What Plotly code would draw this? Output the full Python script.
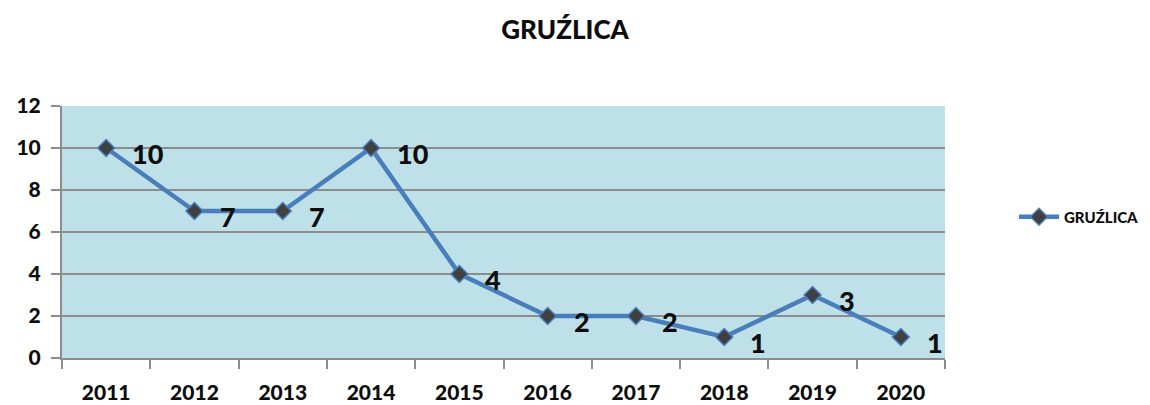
import plotly.graph_objects as go

years = ["2011", "2012", "2013", "2014", "2015", "2016", "2017", "2018", "2019", "2020"]
values = [10, 7, 7, 10, 4, 2, 2, 1, 3, 1]
series_name = "GRUŹLICA"
title_text = "GRUŹLICA"

FONT = "Lato, 'Open Sans', sans-serif"
GRID = "#8c8c8c"
INK = "#0d0d0d"
OFF = 8  # page body offset

fig = go.Figure()
fig.add_trace(go.Scatter(
    x=years, y=values, name=series_name, mode="lines+markers",
    line=dict(color="#4A7EBB", width=4.5),
    marker=dict(symbol="diamond", size=13, color="#404040",
                line=dict(color="#4A7EBB", width=1.5)),
))

for i, v in enumerate(values):
    fig.add_annotation(x=i, y=v, xref="x", yref="y", text=str(v),
                       showarrow=False, xanchor="left", yanchor="middle",
                       xshift=24, yshift=-5,
                       font=dict(family=FONT, size=27, color=INK, weight=900))

fig.update_layout(
    width=1150, height=405,
    margin=dict(l=62 - OFF, r=1150 - 945 + OFF, t=106 - OFF, b=405 - 358 + OFF),
    paper_bgcolor="white", plot_bgcolor="#BEE0E8",
    title=dict(text=title_text, x=(565 - OFF)/1150, xanchor="center",
               y=1 - (30 - OFF)/405, yanchor="middle",
               font=dict(family=FONT, size=26, color=INK, weight=900)),
    showlegend=True,
    legend=dict(x=(1014 - OFF)/1150, xref="container",
                y=1 - (217 - OFF)/405, yref="container",
                xanchor="left", yanchor="middle", itemwidth=40,
                font=dict(family=FONT, size=15, color=INK, weight=900),
                bgcolor="rgba(0,0,0,0)"),
)
fig.update_xaxes(type="category", categoryorder="array", categoryarray=years,
                 range=[-0.5, len(years) - 0.5], automargin=False,
                 tickson="boundaries", ticks="outside",
                 ticklen=9, tickcolor=GRID, tickwidth=2, tickangle=0,
                 showline=True, linecolor=GRID, linewidth=2,
                 showgrid=False, ticklabelstandoff=15,
                 tickfont=dict(family=FONT, size=21, color=INK, weight=900))
fig.update_yaxes(range=[0, 12], dtick=2, ticks="outside", ticklen=9,
                 automargin=False,
                 tickcolor=GRID, tickwidth=2, showline=True, linecolor=GRID,
                 linewidth=2, gridcolor=GRID, gridwidth=2, zeroline=False,
                 ticklabelstandoff=6,
                 tickfont=dict(family=FONT, size=21, color=INK, weight=900))

fig.write_html("out.html")
